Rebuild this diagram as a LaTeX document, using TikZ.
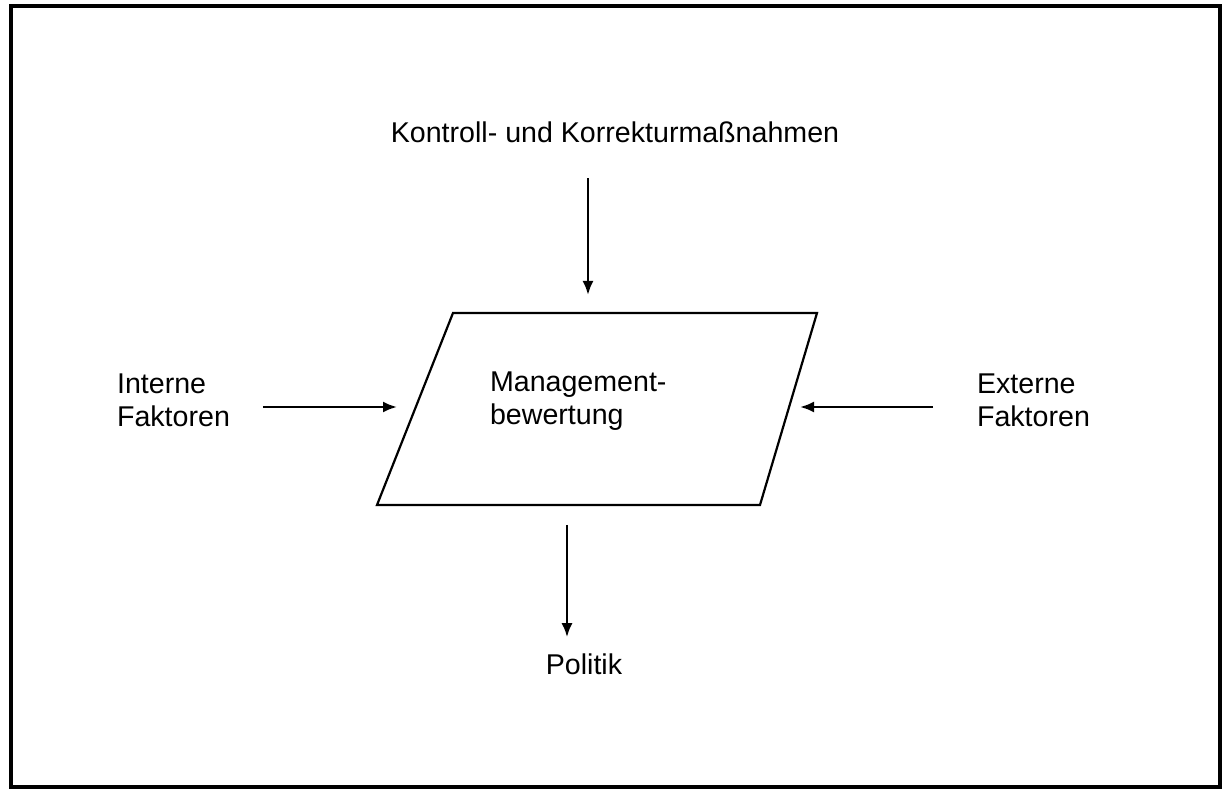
\documentclass[tikz,border=0pt]{standalone}
\usepackage{fontspec}
\setmainfont{Liberation Sans}
\usetikzlibrary{positioning}
\usetikzlibrary{arrows.meta}

\begin{document}
\begin{tikzpicture}[
    x=0.5pt, y=-0.5pt,
    txt/.style={inner sep=3.33pt, font=\fontsize{14.3}{16.5}\selectfont},
    pgram/.style={draw, line width=1.1pt, line join=miter},
    arrow/.style={->, >={Latex[length=7pt,width=5.5pt]}, line width=1.2pt}
]
\useasboundingbox (0,0) rectangle (1222,796);
% frame
\draw[line width=1.6pt] (11,6) rectangle (1220,787);

% Components
\coordinate (pnw) at (453,313);
\coordinate (pne) at (817,313);
\coordinate (pse) at (760,505);
\coordinate (psw) at (377,505);
\draw[pgram] (pnw) -- (pne) -- (pse) -- (psw) -- cycle;
\node[txt, align=left, anchor=west] (mgmt) at (483,401) {Management-\\bewertung};
\node[txt, anchor=base] (ctrl) at (615,143) {Kontroll- und Korrekturma\ss nahmen};
\node[txt, align=left, anchor=west] (intern) at (110,400) {Interne\\Faktoren};
\node[txt, align=left, anchor=west] (extern) at (970,400) {Externe\\Faktoren};
\node[txt, anchor=base] (politik) at (584,675) {Politik};

% arrow ends
\coordinate (topin) at (588,295);
\coordinate (leftin) at (397,407);
\coordinate (rightin) at (800,407);
\coordinate (botout) at (567,525);

% Flows
\draw[arrow, shorten <=14pt] (ctrl.south -| topin) -- (topin);
\draw[arrow, shorten <=13pt] (intern.east |- leftin) -- (leftin);
\draw[arrow, shorten <=18.5pt] (extern.west |- rightin) -- (rightin);
\draw[arrow, shorten >=5pt] (botout) -- (politik.north -| botout);

\end{tikzpicture}
\end{document}
